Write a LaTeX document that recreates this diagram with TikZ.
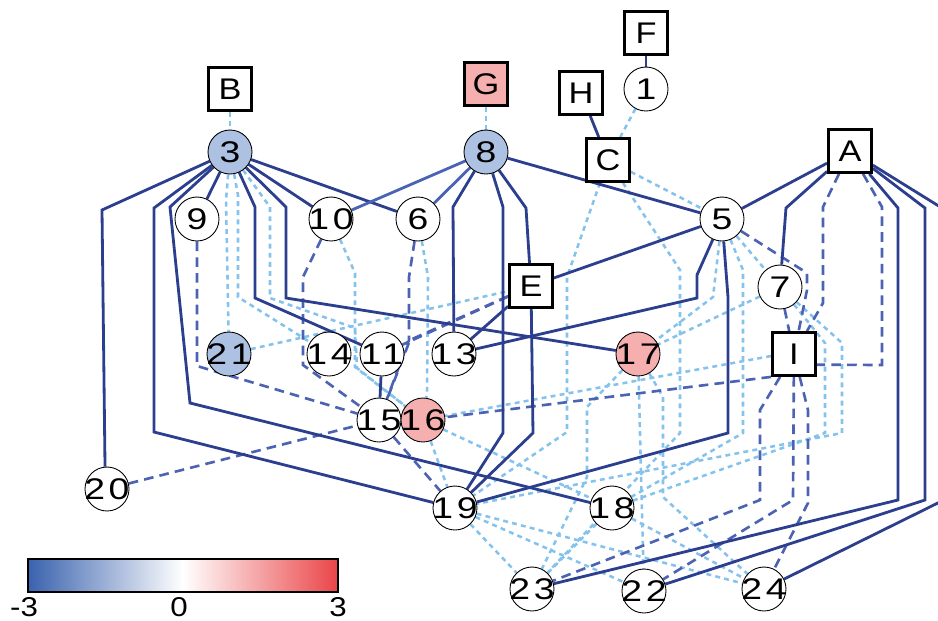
\documentclass[tikz,border=0pt]{standalone}
\usepackage{fontspec}
\setmainfont{Liberation Sans}
\newfontfamily\numfont[LetterSpace=12,FakeStretch=1.25]{Liberation Sans}
\newfontfamily\boxfont[FakeStretch=1.15]{Liberation Sans}
\usetikzlibrary{positioning,calc}
\definecolor{navy}{HTML}{2C3F8E}
\definecolor{navylt}{HTML}{4A63B3}
\definecolor{dashblue}{HTML}{4C62B2}
\definecolor{skyblue}{HTML}{85C2EC}
\definecolor{nodeblue}{HTML}{ADC1E3}
\definecolor{nodepink}{HTML}{F6AFAF}
\definecolor{cbblue}{HTML}{3A62AE}
\definecolor{cbred}{HTML}{EA4548}
\pgfdeclarelayer{bg}
\pgfsetlayers{bg,main}

\begin{document}
\begin{tikzpicture}[x=0.02cm,y=-0.02cm,
    vert/.style={circle,draw=black,line width=0.5pt,fill=white,minimum size=0.88cm,inner sep=-6pt,
      font=\numfont\fontsize{17}{19}\selectfont},
    factor/.style={rectangle,draw=black,line width=1.6pt,fill=white,minimum size=0.86cm,inner sep=0pt,
      font=\boxfont\fontsize{17}{19}\selectfont},
    strongedge/.style={draw=navy,line width=1.6pt},
    midedge/.style={draw=dashblue,line width=1.5pt,dash pattern=on 5.5pt off 3.5pt},
    weakedge/.style={draw=skyblue,line width=1.45pt,dash pattern=on 2.8pt off 2.4pt},
    cbtick/.style={inner sep=0pt,font=\boxfont\fontsize{15.5}{17}\selectfont}]
    \useasboundingbox (0,0) rectangle (938,620);

    % Factor boxes
    \node[factor] (F) at (646,33) {F};
    \node[factor] (B) at (230,89) {B};
    \node[factor,fill=nodepink] (G) at (486,84) {G};
    \node[factor] (H) at (581,93) {H};
    \node[factor] (C) at (608,160) {C};
    \node[factor] (A) at (850,151) {A};
    \node[factor] (E) at (531,286) {E};
    \node[factor] (I) at (794,354) {I};

    % Variables
    \node[vert] (n1) at (646,89) {1};
    \node[vert,fill=nodeblue] (n3) at (230,152) {3};
    \node[vert,fill=nodeblue] (n8) at (486,152) {8};
    \node[vert] (n9) at (197,219) {9};
    \node[vert] (n10) at (331,219) {10};
    \node[vert] (n6) at (418,219) {6};
    \node[vert] (n5) at (722,219) {5};
    \node[vert] (n7) at (780,287) {7};
    \node[vert,fill=nodeblue] (n21) at (229,354) {21};
    \node[vert] (n14) at (329,354) {14};
    \node[vert] (n11) at (382,354) {11};
    \node[vert] (n13) at (454,354) {13};
    \node[vert,fill=nodepink] (n17) at (638,354) {17};
    \node[vert] (n15) at (379,420) {15};
    \node[vert,fill=nodepink] (n16) at (423,420) {16};
    \node[vert] (n20) at (107,489) {20};
    \node[vert] (n19) at (455,508) {19};
    \node[vert] (n18) at (612,508) {18};
    \node[vert] (n23) at (532,589) {23};
    \node[vert] (n22) at (644,591) {22};
    \node[vert] (n24) at (764,589) {24};

    \begin{pgfonlayer}{bg}
    \clip (0,0) rectangle (938,620);
    % Weak links
    \draw[weakedge] (B) -- (n3);
    \draw[weakedge] (G) -- (n8);
    \draw[weakedge] (n1) -- (C);
    \draw[weakedge] (n3) -- (226,200) -- (n21);
    \draw[weakedge] (n3) -- (238,195) -- (238,297) -- (n14);
    \draw[weakedge] (n3) -- (270,207) -- (270,298) -- (355,328) -- (357,368) -- (n16);
    \draw[weakedge] (n21) -- (E);
    \draw[weakedge] (n10) -- (355,273) -- (355,367) -- (n16);
    \draw[weakedge] (n6) -- (428,277) -- (427,393) -- (n16);
    \draw[weakedge] (C) -- (567,277) -- (567,432) -- (n19);
    \draw[weakedge] (C) -- (680,270) -- (680,433) -- (n23);
    \draw[weakedge] (C) -- (n5);
    \draw[weakedge] (n5) -- (713,297) -- (n17);
    \draw[weakedge] (n5) -- (n7);
    \draw[weakedge] (n5) -- (743,270) -- (743,433) -- (n18);
    \draw[weakedge] (n7) -- (n17);
    \draw[weakedge] (n7) -- (825,343) -- (825,433) -- (n18);
    \draw[weakedge] (n7) -- (842,343) -- (842,433) -- (n19);
    \draw[weakedge] (I.185) -- (n16);
    \draw[weakedge] (n17) -- (587,407) -- (587,477) -- (n23);
    \draw[weakedge] (n17) -- (n22);
    \draw[weakedge] (n17) -- (663,397) -- (663,497) -- (n24);
    \draw[weakedge] (n16) -- (n18);
    \draw[weakedge] (n16) -- (n19);
    \draw[weakedge] (n19) -- (n23);
    \draw[weakedge] (n19) -- (n22);
    \draw[weakedge] (n19) -- (n24);
    \draw[weakedge] (n18) -- (n23);
    \draw[weakedge] (n18) -- (n24);

    % Dashed links
    \draw[midedge] (n9) -- (197,366) -- (n15);
    \draw[midedge] (n10) -- (303,277) -- (303,365) -- (n15);
    \draw[midedge] (n6) -- (409,277) -- (409,340) -- (n15);
    \draw[midedge] (E) -- (410,340) -- (n15);
    \draw[midedge] (E) -- (n11);
    \draw[midedge] (n20) -- (n15);
    \draw[midedge] (n15) -- (n19);
    \draw[midedge] (I.south west) -- (n16);
    \draw[midedge] (n7) -- (I);
    \draw[midedge] (n5) -- (807,273) -- (807,290) -- (I);
    \draw[midedge] (A) -- (823,207) -- (823,303) -- (I);
    \draw[midedge] (A) -- (882,207) -- (882,365) -- (I.-25);
    \draw[midedge] (I) -- (760,410) -- (760,500) -- (n23);
    \draw[midedge] (I) -- (793,500) -- (n22);
    \draw[midedge] (I) -- (808,410) -- (808,503) -- (n24);

    % Solid links
    \draw[strongedge] (n3) -- (102,210) -- (105,465) -- (n20);
    \draw[strongedge] (n3) -- (154,208) -- (154,432) -- (n19);
    \draw[strongedge] (n3) -- (170,207) -- (190,403) -- (n18);
    \draw[strongedge] (n3) -- (n9);
    \draw[strongedge] (n3) -- (255,207) -- (255,298) -- (n11);
    \draw[strongedge] (n3) -- (286,207) -- (286,298) -- (n17);
    \draw[strongedge] (n3) -- (n10);
    \draw[strongedge] (n3) -- (n6);
    \draw[strongedge,draw=navylt] (n8) -- (n10);
    \draw[strongedge,draw=navylt] (n8) -- (n6);
    \draw[strongedge] (n8) -- (453,207) -- (n13);
    \draw[strongedge] (n8) -- (503,207) -- (503,433) -- (n19);
    \draw[strongedge] (n8) -- (526,208) -- (E);
    \draw[strongedge] (E) -- (533,433) -- (n19);
    \draw[strongedge] (n8) -- (n5);
    \draw[strongedge] (H) -- (C);
    \draw[strongedge] (F) -- (n1);
    \draw[strongedge] (n5) -- (A);
    \draw[strongedge] (n5) -- (E);
    \draw[strongedge] (E) -- (n13);
    \draw[strongedge] (n5) -- (697,275) -- (697,298) -- (n13);
    \draw[strongedge] (n5) -- (728,297) -- (728,433) -- (n19);
    \draw[strongedge] (A) -- (786,208) -- (n7);
    \draw[strongedge] (A) -- (898,208) -- (898,500) -- (n23);
    \draw[strongedge] (A) -- (925,208) -- (925,500) -- (n22);
    \draw[strongedge] (A) -- (950,213) -- (950,497) -- (n24);
    \draw[strongedge] (n11) -- (n15);
    \end{pgfonlayer}

    % Colour bar
    \shade[left color=cbblue,right color=cbred,middle color=white] (28,559) rectangle (338,592);
    \draw[line width=0.6pt] (28,559) rectangle (338,592);
    \node[cbtick] (cblo) at (24,607) {-3};
    \node[cbtick] (cbmid) at (179,607) {0};
    \node[cbtick] (cbhi) at (338,607) {3};
\end{tikzpicture}
\end{document}
